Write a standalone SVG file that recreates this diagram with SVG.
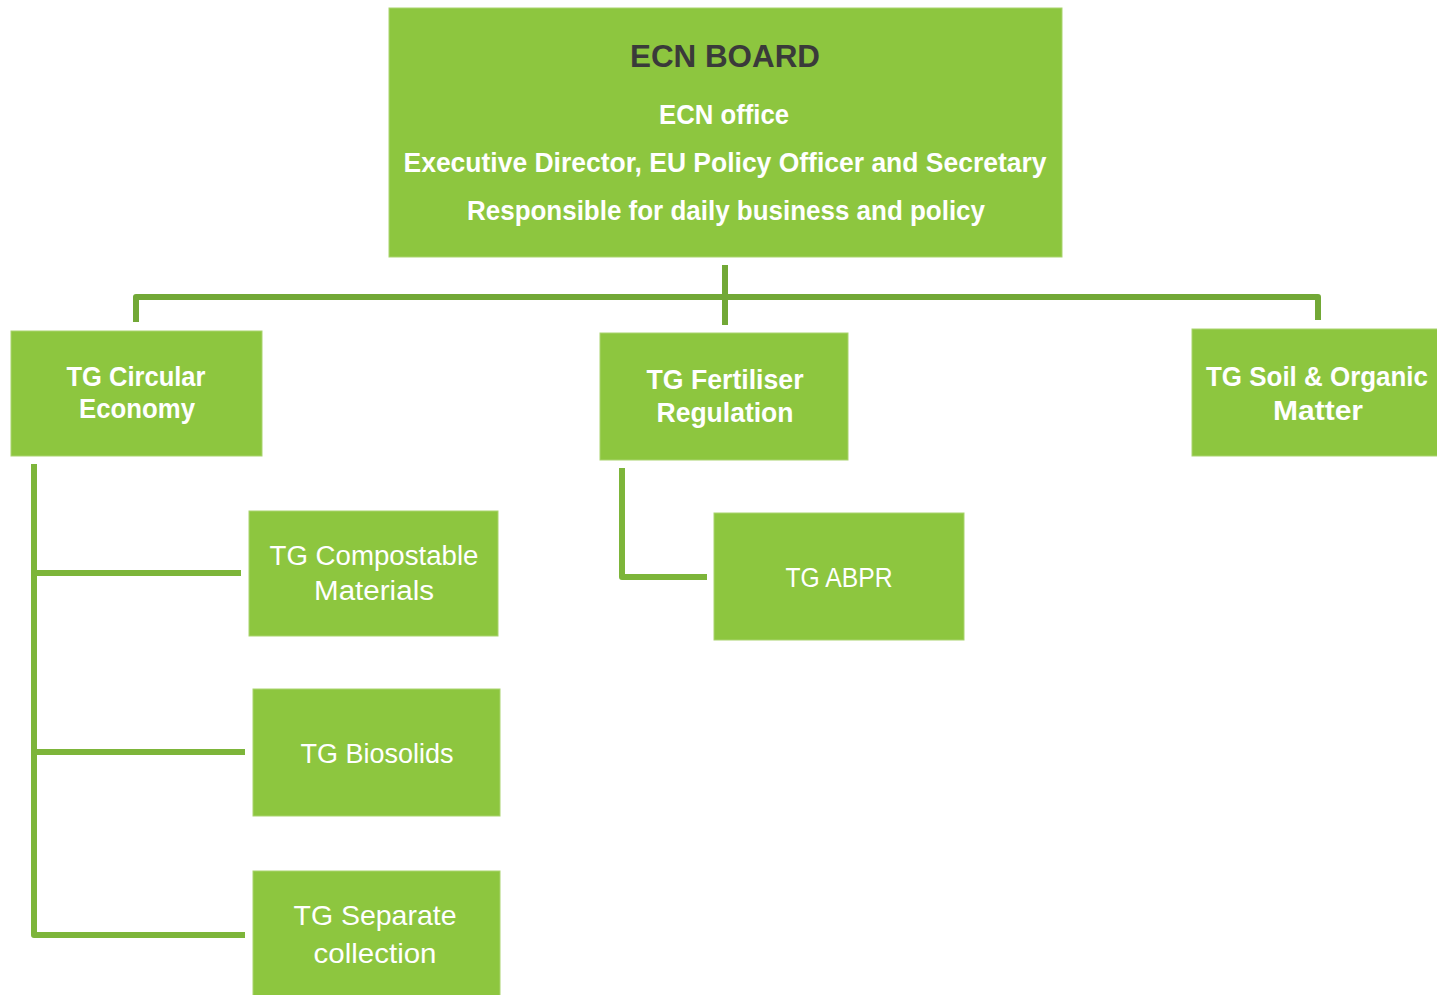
<svg xmlns="http://www.w3.org/2000/svg" width="1437" height="995" viewBox="0 0 1437 995">
<style>
.box{fill:#8dc63f;stroke:#a9d46f;stroke-width:1}
.t{font-family:"Liberation Sans","Noto Sans",sans-serif;fill:#ffffff;text-anchor:middle}
.b{font-weight:bold}
.n{font-weight:normal}
.c1{fill:none;stroke:#72a836;stroke-width:6;stroke-linejoin:round}
.c2{fill:none;stroke:#7db53a;stroke-width:6;stroke-linejoin:round}
</style>
<rect width="1437" height="995" fill="#ffffff"/>
<g id="connectors">
<path class="c1" d="M725,265 V325"/>
<path class="c1" d="M136,322 V297 H1318 V320"/>
<path class="c2" d="M34,464 V935 H245"/>
<path class="c2" d="M34,573 H241"/>
<path class="c2" d="M34,752 H245"/>
<path class="c2" d="M622,468 V577 H707"/>
</g>
<g id="board">
<rect class="box" x="389" y="8" width="673" height="249"/>
<text class="t b" x="725" y="67" font-size="32" fill="#3a3a3a" style="fill:#3a3a3a" textLength="190" lengthAdjust="spacingAndGlyphs">ECN BOARD</text>
<text class="t b" x="724" y="124" font-size="27" textLength="130" lengthAdjust="spacingAndGlyphs">ECN office</text>
<text class="t b" x="725" y="172" font-size="27" textLength="643" lengthAdjust="spacingAndGlyphs">Executive Director, EU Policy Officer and Secretary</text>
<text class="t b" x="726" y="220" font-size="27" textLength="518" lengthAdjust="spacingAndGlyphs">Responsible for daily business and policy</text>
</g>
<g id="tg-circular">
<rect class="box" x="11" y="331" width="251" height="125"/>
<text class="t b" x="136" y="386" font-size="27" textLength="139" lengthAdjust="spacingAndGlyphs">TG Circular</text>
<text class="t b" x="137" y="418" font-size="27" textLength="116" lengthAdjust="spacingAndGlyphs">Economy</text>
</g>
<g id="tg-fertiliser">
<rect class="box" x="600" y="333" width="248" height="127"/>
<text class="t b" x="725" y="389" font-size="27" textLength="157" lengthAdjust="spacingAndGlyphs">TG Fertiliser</text>
<text class="t b" x="725" y="422" font-size="27" textLength="137" lengthAdjust="spacingAndGlyphs">Regulation</text>
</g>
<g id="tg-soil">
<rect class="box" x="1192" y="329" width="250" height="127"/>
<text class="t b" x="1317" y="386" font-size="27" textLength="222" lengthAdjust="spacingAndGlyphs">TG Soil &amp; Organic</text>
<text class="t b" x="1318" y="420" font-size="27" textLength="90" lengthAdjust="spacingAndGlyphs">Matter</text>
</g>
<g id="tg-compostable">
<rect class="box" x="249" y="511" width="249" height="125"/>
<text class="t n" x="374" y="565" font-size="27" textLength="209" lengthAdjust="spacingAndGlyphs">TG Compostable</text>
<text class="t n" x="374" y="600" font-size="27" textLength="120" lengthAdjust="spacingAndGlyphs">Materials</text>
</g>
<g id="tg-abpr">
<rect class="box" x="714" y="513" width="250" height="127"/>
<text class="t n" x="839" y="587" font-size="27" textLength="107" lengthAdjust="spacingAndGlyphs">TG ABPR</text>
</g>
<g id="tg-biosolids">
<rect class="box" x="253" y="689" width="247" height="127"/>
<text class="t n" x="377" y="763" font-size="27" textLength="153" lengthAdjust="spacingAndGlyphs">TG Biosolids</text>
</g>
<g id="tg-separate">
<rect class="box" x="253" y="871" width="247" height="130"/>
<text class="t n" x="375" y="925" font-size="28" textLength="163" lengthAdjust="spacingAndGlyphs">TG Separate</text>
<text class="t n" x="375" y="963" font-size="28" textLength="123" lengthAdjust="spacingAndGlyphs">collection</text>
</g>
</svg>
